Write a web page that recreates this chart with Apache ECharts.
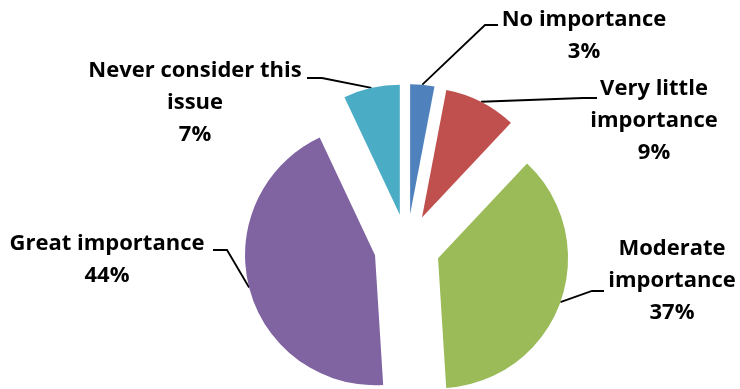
<!DOCTYPE html>
<html>
<head>
<meta charset="utf-8">
<script src="https://cdn.jsdelivr.net/npm/echarts@6/dist/echarts.min.js"></script>
<style>
  html, body { margin: 0; padding: 0; background: #fff; }
  #chart { width: 740px; height: 389px; }
</style>
</head>
<body>
<div id="chart"></div>
<script>
// Survey answers, clockwise from twelve o'clock
const categories = [
  'No importance',
  'Very little importance',
  'Moderate importance',
  'Great importance',
  'Never consider this issue'
];
const shares = [3, 9, 37, 44, 7];
// How each category name breaks across lines in its label
const labelLines = [
  ['No importance'],
  ['Very little', 'importance'],
  ['Moderate', 'importance'],
  ['Great importance'],
  ['Never consider this', 'issue']
];
const colors = ['#4F81BD', '#C0504D', '#9BBB59', '#8064A2', '#4BACC6'];

const PIE_CENTER = [407, 247];
const PIE_RADIUS = 130;
const EXPLODE = 33;

// Label block centres and leader-line elbows/ends (canvas pixels)
const labelPlace = [
  { x: 584, y: 36,  elbow: [485, 25],  end: [498, 25] },
  { x: 654, y: 121, elbow: [583, 98],  end: [597, 98] },
  { x: 672, y: 281, elbow: [592, 291], end: [604, 291] },
  { x: 107, y: 260, elbow: [227, 250], end: [213, 250] },
  { x: 195, y: 103, elbow: [322, 78],  end: [307, 78] }
];

const chart = echarts.init(document.getElementById('chart'), null, { renderer: 'canvas' });

const pieData = categories.map((name, i) => ({ name: name, value: shares[i] }));

chart.setOption({
  animation: false,
  backgroundColor: '#ffffff',
  series: [
    {
      // exploded slices
      type: 'pie',
      center: PIE_CENTER,
      radius: PIE_RADIUS,
      startAngle: 90,
      clockwise: true,
      selectedMode: 'multiple',
      selectedOffset: EXPLODE,
      silent: true,
      emphasis: { disabled: true },
      label: { show: false },
      labelLine: { show: false },
      data: pieData.map((d, i) => ({
        name: d.name,
        value: d.value,
        selected: true,
        itemStyle: { color: colors[i] }
      }))
    },
    {
      // invisible ring whose rim runs through the exploded slices' mid-arc points;
      // it carries the category labels and their leader lines
      type: 'pie',
      center: PIE_CENTER,
      radius: PIE_RADIUS + EXPLODE,
      startAngle: 90,
      clockwise: true,
      silent: true,
      avoidLabelOverlap: false,
      emphasis: { disabled: true },
      itemStyle: { color: 'rgba(0,0,0,0)' },
      data: pieData,
      label: {
        show: true,
        position: 'outside',
        formatter: p => labelLines[p.dataIndex].join('\n') + '\n' + p.value + '%',
        fontFamily: 'Open Sans',
        fontWeight: 'bold',
        fontSize: 22,
        lineHeight: 32,
        color: '#000',
        align: 'center'
      },
      labelLine: {
        show: true,
        length: 10,
        length2: 10,
        lineStyle: { color: '#000', width: 1.8 }
      },
      labelLayout: function (params) {
        const place = labelPlace[params.dataIndex];
        const start = params.labelLinePoints[0];
        return {
          x: place.x,
          y: place.y,
          align: 'center',
          verticalAlign: 'middle',
          labelLinePoints: [start, place.elbow, place.end]
        };
      }
    }
  ]
});
</script>
</body>
</html>
